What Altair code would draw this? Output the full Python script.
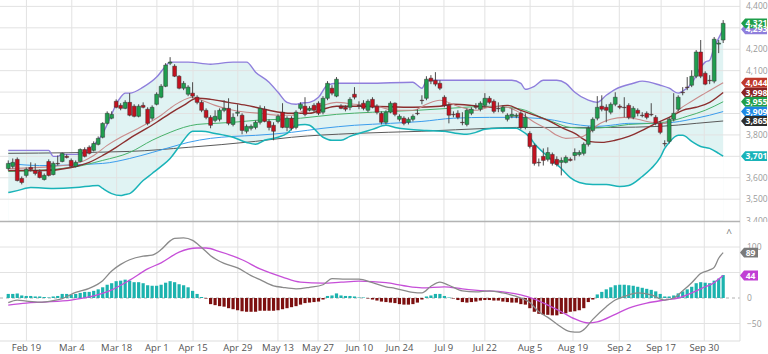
import altair as alt
import pandas as pd

# ---------------- candles (one per trading day, index 0..159) ----------------
OPEN = [3643, 3653, 3686, 3597, 3611, 3648, 3634, 3629, 3592, 3676,
        3615, 3667, 3676, 3700, 3681, 3653, 3676, 3732, 3742, 3728,
        3756, 3789, 3854, 3878, 3957, 3938, 3924, 3952, 3934, 3887,
        3938, 3920, 3878, 3943, 3976, 4027, 4135, 4121, 4074, 4018,
        3990, 3995, 3976, 3952, 3915, 3882, 3868, 3873, 3915, 3924,
        3849, 3901, 3892, 3817, 3831, 3835, 3859, 3920, 3863, 3845,
        3863, 3906, 3835, 3878, 3835, 3924, 3934, 3915, 3938, 3948,
        3906, 3971, 4018, 3981, 3934, 3929, 3929, 3990, 3938, 3948,
        3915, 3966, 3934, 3901, 3859, 3906, 3948, 3873, 3878, 3859,
        3873, 3901, 3962, 3971, 4065, 4055, 4041, 3976, 3938, 3896,
        3901, 3859, 3849, 3901, 3934, 3920, 3938, 3971, 3957, 3924,
        3910, 3873, 3887, 3887, 3901, 3835, 3807, 3751, 3672, 3700,
        3686, 3709, 3686, 3672, 3672, 3686, 3704, 3709, 3714, 3756,
        3821, 3878, 3934, 3929, 3906, 3943, 3934, 3929, 3938, 3882,
        3915, 3892, 3901, 3896, 3882, 3854, 3760, 3770, 3873, 3920,
        3999, 4023, 4032, 4074, 4187, 4088, 4055, 4051, 4224, 4243]
HIGH = [3681, 3690, 3695, 3606, 3648, 3672, 3667, 3639, 3620, 3686,
        3676, 3704, 3718, 3709, 3690, 3681, 3737, 3742, 3751, 3770,
        3793, 3859, 3910, 3910, 3966, 3948, 3962, 3995, 3943, 3943,
        3952, 3929, 3938, 3999, 4037, 4135, 4163, 4130, 4079, 4051,
        4032, 4046, 3985, 3962, 3924, 3892, 3915, 3924, 3962, 3971,
        3901, 3943, 3901, 3849, 3849, 3868, 3938, 3934, 3873, 3859,
        3896, 3948, 3887, 3887, 3915, 3952, 3976, 3934, 3948, 3957,
        3981, 4051, 4032, 4070, 3943, 3938, 3976, 4023, 3957, 3962,
        3966, 3976, 3943, 3910, 3915, 3957, 3952, 3896, 3887, 3882,
        3896, 3920, 3985, 4074, 4079, 4093, 4055, 3985, 3948, 3910,
        3915, 3906, 3924, 3929, 3948, 3957, 3995, 3981, 3966, 3952,
        3938, 3901, 3924, 3901, 3910, 3901, 3817, 3760, 3690, 3737,
        3742, 3718, 3700, 3695, 3704, 3695, 3737, 3728, 3765, 3840,
        3882, 3981, 3985, 3943, 3952, 3999, 3943, 3976, 3948, 3934,
        3924, 3906, 3910, 3948, 3892, 3863, 3775, 3882, 3995, 3985,
        4023, 4070, 4102, 4196, 4243, 4097, 4079, 4257, 4243, 4336]
LOW = [3634, 3643, 3583, 3569, 3601, 3629, 3611, 3597, 3587, 3606,
       3611, 3657, 3672, 3690, 3648, 3648, 3672, 3695, 3709, 3723,
       3751, 3784, 3849, 3873, 3924, 3915, 3920, 3887, 3882, 3882,
       3924, 3845, 3868, 3938, 3971, 4023, 4126, 4070, 4013, 4009,
       3981, 3971, 3943, 3906, 3873, 3831, 3859, 3863, 3906, 3845,
       3840, 3887, 3803, 3807, 3821, 3826, 3849, 3859, 3821, 3775,
       3854, 3831, 3817, 3821, 3826, 3915, 3887, 3910, 3906, 3892,
       3896, 3962, 3985, 3976, 3920, 3910, 3915, 3966, 3920, 3915,
       3906, 3924, 3896, 3849, 3849, 3901, 3887, 3863, 3845, 3849,
       3863, 3892, 3943, 3962, 4037, 4027, 4009, 3929, 3854, 3882,
       3873, 3845, 3840, 3892, 3920, 3910, 3929, 3943, 3901, 3906,
       3901, 3863, 3878, 3878, 3826, 3826, 3737, 3657, 3653, 3657,
       3676, 3657, 3653, 3611, 3667, 3676, 3681, 3700, 3704, 3746,
       3812, 3868, 3910, 3859, 3896, 3934, 3920, 3882, 3873, 3873,
       3887, 3882, 3873, 3887, 3845, 3803, 3746, 3760, 3863, 3910,
       3985, 4009, 4023, 4065, 4065, 4032, 4037, 4041, 4182, 4229]
CLOSE = [3667, 3672, 3587, 3578, 3639, 3639, 3620, 3601, 3611, 3611,
         3667, 3665, 3714, 3695, 3653, 3672, 3732, 3700, 3714, 3760,
         3784, 3854, 3901, 3896, 3929, 3924, 3952, 3892, 3887, 3934,
         3929, 3854, 3929, 3990, 4027, 4126, 4140, 4074, 4018, 4041,
         4023, 3981, 3952, 3915, 3882, 3845, 3887, 3915, 3924, 3854,
         3882, 3906, 3821, 3840, 3840, 3859, 3924, 3863, 3835, 3817,
         3887, 3835, 3878, 3831, 3906, 3943, 3896, 3924, 3915, 3901,
         3971, 4041, 3995, 4060, 3924, 3920, 3966, 3976, 3936, 3924,
         3957, 3929, 3906, 3859, 3906, 3948, 3896, 3887, 3854, 3873,
         3887, 3899, 3960, 4060, 4051, 4037, 4018, 3938, 3892, 3894,
         3882, 3857, 3915, 3920, 3929, 3948, 3971, 3952, 3910, 3922,
         3929, 3892, 3896, 3892, 3835, 3882, 3746, 3667, 3670, 3681,
         3718, 3667, 3662, 3681, 3695, 3681, 3718, 3718, 3756, 3831,
         3873, 3929, 3920, 3915, 3943, 3976, 3929, 3927, 3882, 3924,
         3901, 3890, 3882, 3894, 3854, 3812, 3758, 3873, 3901, 3976,
         3997, 4021, 4074, 4187, 4074, 4037, 4053, 4247, 4229, 4321]

# ---------------- overlay lines (vertex index, value) ----------------
BB_UP_I = [0, 9, 10, 11, 12, 15, 17, 18, 20, 21, 23, 24, 25, 26, 27, 30, 33, 35, 36, 40,
           45, 50, 53, 55, 58, 60, 62, 64, 65, 67, 69, 71, 73, 80, 90, 91, 92, 93, 95, 107,
           112, 114, 115, 117, 119, 122, 124, 126, 129, 131, 133, 135, 139, 141, 145, 147,
           149, 150, 152, 154, 155, 156, 157, 158, 159]
BB_UP_V = [3728, 3728, 3700, 3700, 3709, 3709, 3718, 3737, 3775, 3807, 3896, 3943, 3976, 3995,
           3995, 4023, 4070, 4121, 4140, 4140, 4130, 4140, 4140, 4093, 4046, 3999, 3952, 3943,
           3948, 3952, 3976, 4032, 4041, 4041, 4046, 4032, 4018, 4051, 4055, 4055, 4055, 4041,
           4013, 4027, 4055, 4055, 4041, 3999, 3962, 3952, 3985, 4013, 4041, 4051, 4032, 4018,
           3995, 4004, 4041, 4116, 4140, 4149, 4210, 4252, 4293]
BB_LO_I = [0, 2, 5, 10, 15, 20, 21, 23, 25, 26, 27, 30, 32, 34, 36, 38, 39, 41, 43, 46,
           50, 53, 55, 57, 60, 62, 64, 66, 67, 70, 72, 74, 76, 78, 81, 84, 86, 89, 93, 97,
           100, 102, 104, 106, 109, 113, 114, 116, 117, 119, 121, 123, 125, 127, 130, 133,
           136, 138, 141, 143, 145, 146, 147, 149, 150, 152, 154, 156, 158, 159]
BB_LO_V = [3531, 3540, 3554, 3550, 3554, 3564, 3550, 3526, 3517, 3522, 3526, 3587, 3620, 3653,
           3690, 3746, 3775, 3817, 3817, 3807, 3789, 3765, 3756, 3775, 3789, 3807, 3845, 3849,
           3845, 3789, 3775, 3775, 3793, 3807, 3826, 3845, 3835, 3826, 3821, 3817, 3807, 3803,
           3812, 3826, 3831, 3831, 3821, 3789, 3760, 3718, 3681, 3643, 3601, 3578, 3569, 3569,
           3559, 3564, 3606, 3643, 3695, 3737, 3765, 3798, 3798, 3770, 3746, 3737, 3714, 3701]
MA20_I = [0, 8, 14, 18, 21, 24, 27, 30, 33, 36, 39, 42, 45, 49, 53, 55, 58, 63, 67, 70,
          73, 80, 90, 96, 99, 103, 107, 111, 114, 117, 120, 123, 126, 129, 132, 135, 138,
          141, 144, 147, 150, 153, 156, 159]
MA20_V = [3634, 3634, 3648, 3672, 3704, 3742, 3784, 3821, 3859, 3901, 3938, 3971, 3966, 3952,
          3938, 3929, 3915, 3901, 3901, 3920, 3934, 3934, 3929, 3934, 3943, 3938, 3929, 3938,
          3915, 3892, 3868, 3835, 3807, 3770, 3765, 3775, 3793, 3821, 3854, 3882, 3915, 3929,
          3952, 3998]
MA10_I = [0, 10, 15, 17, 19, 22, 25, 28, 31, 34, 36, 38, 41, 43, 46, 49, 53, 56, 60, 63,
          66, 70, 73, 77, 82, 86, 90, 93, 96, 100, 104, 108, 111, 114, 117, 120, 122, 124,
          127, 129, 131, 134, 137, 140, 143, 146, 147, 149, 152, 155, 159]
MA10_V = [3643, 3653, 3667, 3681, 3704, 3751, 3789, 3821, 3854, 3892, 3924, 3952, 3976, 3962,
          3938, 3920, 3906, 3901, 3892, 3892, 3915, 3938, 3952, 3943, 3934, 3915, 3915, 3943,
          3962, 3934, 3915, 3934, 3929, 3901, 3859, 3826, 3798, 3784, 3789, 3807, 3845, 3873,
          3882, 3873, 3859, 3854, 3868, 3915, 3957, 3995, 4044]
MA50_I = [0, 14, 21, 27, 32, 36, 39, 42, 46, 50, 55, 65, 73, 81, 91, 98, 107, 111, 115, 118,
          122, 125, 129, 133, 138, 143, 147, 151, 155, 159]
MA50_V = [3629, 3648, 3681, 3718, 3775, 3812, 3835, 3849, 3854, 3859, 3868, 3878, 3896, 3906,
          3915, 3924, 3934, 3929, 3915, 3887, 3854, 3835, 3831, 3835, 3849, 3854, 3863, 3887,
          3915, 3955]
MA100_I = [0, 7, 21, 27, 32, 36, 40, 45, 50, 55, 63, 70, 77, 85, 92, 99, 107, 112, 120, 126,
           131, 134, 138, 144, 148, 153, 156, 159]
MA100_V = [3667, 3657, 3667, 3690, 3718, 3742, 3765, 3784, 3793, 3798, 3812, 3831, 3845, 3854,
           3863, 3878, 3882, 3882, 3873, 3849, 3840, 3845, 3854, 3854, 3859, 3878, 3892, 3909]
MA200_I = [0, 27, 40, 55, 63, 77, 92, 107, 113, 134, 145, 153, 159]
MA200_V = [3714, 3723, 3742, 3770, 3789, 3807, 3817, 3831, 3835, 3835, 3840, 3854, 3865]

# ---------------- MACD ----------------
MACD_I = [0, 2, 4, 7, 10, 12, 15, 18, 21, 23, 25, 27, 30, 32, 34, 36, 37, 39, 41, 43,
          45, 48, 51, 54, 56, 59, 61, 64, 67, 70, 72, 75, 78, 81, 84, 86, 90, 92, 94, 96,
          98, 101, 104, 107, 110, 113, 116, 118, 120, 122, 125, 127, 128, 130, 133, 135,
          137, 140, 143, 146, 148, 150, 152, 154, 156, 157, 158, 159]
MACD_V = [-9, -4, -6, -8, -5, -1, 11, 19, 34, 53, 66, 75, 82, 84, 95, 112, 117, 118, 113, 99,
          83, 68, 59, 44, 36, 24, 21, 18, 21, 26, 38, 37, 37, 30, 22, 19, 11, 10, 23, 31,
          25, 14, 12, 14, 10, 3, -9, -27, -38, -51, -66, -67, -62, -42, -17, -4,
          3, 10, 6, -4, 0, 14, 30, 48, 55, 60, 78, 89]
SIG_I = [0, 4, 8, 14, 18, 23, 27, 31, 34, 38, 42, 44, 47, 52, 56, 61, 65, 70, 74, 78,
         84, 88, 92, 97, 101, 106, 110, 114, 117, 120, 123, 126, 129, 131, 135, 138, 142,
         146, 149, 152, 155, 157, 158, 159]
SIG_V = [-14, -10, -8, -4, 2, 16, 35, 57, 69, 90, 98, 98, 91, 75, 57, 41, 31, 29, 31, 33,
         30, 24, 20, 22, 18, 14, 12, 6, -2, -14, -27, -41, -49, -47, -32, -20, -10,
         -4, 0, 10, 22, 30, 37, 44]
HIST = [8, 8, 9, 5, 4, 4, 3, 3, 2, 1, 3, 4, 8, 8, 7, 8, 10, 12, 12, 14,
        17, 21, 26, 29, 33, 34, 36, 34, 31, 31, 29, 25, 24, 24, 26, 30, 33, 31, 27, 25,
        21, 14, 8, 2, -1, -12, -14, -16, -17, -20, -22, -24, -26, -27, -27, -27, -25, -25, -25, -25,
        -24, -22, -20, -18, -16, -13, -10, -9, -8, -7, -3, 4, 5, 9, 5, 4, 4, 3, 1, 1,
        -1, -3, -5, -7, -8, -9, -10, -12, -13, -13, -12, -9, -3, 3, 5, 8, 8, 4, 1, -1,
        -4, -8, -9, -8, -7, -5, -4, -4, -5, -5, -7, -8, -9, -9, -12, -13, -20, -27, -31, -33,
        -33, -34, -34, -31, -30, -27, -26, -24, -20, -8, -3, 7, 12, 17, 21, 25, 26, 26, 25, 24,
        22, 20, 18, 16, 13, 8, 3, 3, 5, 9, 13, 17, 22, 29, 31, 30, 29, 34, 38, 45]

# ---------------- axes / tags ----------------
TICK_POS = [4.04, 14.13, 24.1, 33.06, 41.1, 51.05, 59.98, 68.9, 78.1, 87.03,
            96.9, 106.0, 116.06, 125.6, 135.9, 145.2, 154.8]
TICK_LABELS = ["Feb 19", "Mar 4", "Mar 18", "Apr 1", "Apr 15", "Apr 29", "May 13", "May 27",
               "Jun 10", "Jun 24", "Jul 9", "Jul 22", "Aug 5", "Aug 19", "Sep 2", "Sep 17", "Sep 30"]
PRICE_GRID = [3500, 3600, 3700, 3800, 3900, 4000, 4100, 4200, 4300, 4400]
PRICE_LABELS = [4400, 4200, 4100, 3800, 3600, 3500, 3400]   # the others sit under value tags
MACD_GRID = [100, 50, -50]
MACD_LABELS = [100, 0, -50]
TAG_VALUES = [4293, 4321, 3998, 4044, 3955, 3909, 3865, 3701]
TAG_COLORS = ["#8f7fdc", "#1e9e4a", "#8b2222", "#c0392b", "#1f9e4a", "#1e88e5", "#2e2e2e", "#19b3b8"]
MTAG_VALUES = [89, 44]
MTAG_COLORS = ["#7a7a7a", "#c13fd4"]

FONT = "Open Sans"
UP_C, DN_C = "#1f9e4f", "#c4111f"


def X(f="i"):
    return alt.X(f + ":Q", axis=None,
                 scale=alt.Scale(domain=[-0.724, 161.63], range=[0, 740], nice=False, zero=False))


def YP(f):
    return alt.Y(f + ":Q", axis=None,
                 scale=alt.Scale(domain=[3400, 4400], range=[220.6, 6.4], nice=False, zero=False))


def YM(f):
    return alt.Y(f + ":Q", axis=None,
                 scale=alt.Scale(domain=[-50, 100], range=[323.5, 247], nice=False, zero=False))


def ldf(I, V):
    return pd.DataFrame({"i": I, "v": V})


candles = pd.DataFrame({"i": list(range(len(OPEN))), "open": OPEN, "high": HIGH,
                        "low": LOW, "close": CLOSE})
hist = pd.DataFrame({"i": list(range(len(HIST))), "h": HIST})
ticks = pd.DataFrame({"i": TICK_POS, "label": TICK_LABELS})
one = pd.DataFrame({"v": [0]})

layers = []

# Bollinger fill: teal from upper band down, then white from lower band down
layers.append(alt.Chart(ldf(BB_UP_I, BB_UP_V)).mark_area(color="#e0f3f3", interpolate="monotone")
              .encode(x=X(), y=YP("v"), y2=alt.Y2Datum(3400)))
layers.append(alt.Chart(ldf(BB_LO_I, BB_LO_V)).mark_area(color="white", interpolate="monotone")
              .encode(x=X(), y=YP("v"), y2=alt.Y2Datum(3400)))

# grid
layers.append(alt.Chart(ticks).mark_rule(color="#e2e2e2", strokeWidth=1)
              .encode(x=X(), y=alt.value(0), y2=alt.value(341)))
layers.append(alt.Chart(pd.DataFrame({"v": PRICE_GRID})).mark_rule(color="#e2e2e2", strokeWidth=1)
              .encode(y=YP("v"), x=alt.value(0), x2=alt.value(740)))
layers.append(alt.Chart(pd.DataFrame({"v": MACD_GRID})).mark_rule(color="#e2e2e2", strokeWidth=1)
              .encode(y=YM("v"), x=alt.value(0), x2=alt.value(740)))
layers.append(alt.Chart(one).mark_rule(color="#b0b0b0", strokeWidth=1, strokeDash=[3, 3])
              .encode(y=YM("v"), x=alt.value(0), x2=alt.value(740)))
layers.append(alt.Chart(one).mark_rule(color="#dddddd", strokeWidth=1)
              .encode(x=alt.value(740), y=alt.value(0), y2=alt.value(341)))
layers.append(alt.Chart(one).mark_rule(color="#dddddd", strokeWidth=1)
              .encode(y=alt.value(341), x=alt.value(0), x2=alt.value(740)))
layers.append(alt.Chart(one).mark_rule(color="#b3b3b3", strokeWidth=1.5)
              .encode(y=alt.value(221.5), x=alt.value(0), x2=alt.value(740)))

# moving averages and bands
for I, V, col, w in [(MA200_I, MA200_V, "#5a5a5a", 1.0),
                     (MA100_I, MA100_V, "#3b9ded", 1.0),
                     (MA50_I, MA50_V, "#47b26b", 1.0),
                     (MA20_I, MA20_V, "#8c2f2f", 1.4),
                     (MA10_I, MA10_V, "#c98b8b", 1.1),
                     (BB_UP_I, BB_UP_V, "#8f7fdc", 1.4),
                     (BB_LO_I, BB_LO_V, "#19b3b8", 1.5)]:
    layers.append(alt.Chart(ldf(I, V)).mark_line(color=col, strokeWidth=w, interpolate="monotone")
                  .encode(x=X(), y=YP("v")))

# MACD histogram and lines
layers.append(alt.Chart(hist).mark_bar(size=3.2)
              .encode(x=X(), y=YM("h"), y2=alt.Y2Datum(0),
                      color=alt.condition("datum.h >= 0", alt.value("#1cb3ae"), alt.value("#7d1010"))))
layers.append(alt.Chart(ldf(SIG_I, SIG_V)).mark_line(color="#c64fd8", strokeWidth=1.3, interpolate="monotone")
              .encode(x=X(), y=YM("v")))
layers.append(alt.Chart(ldf(MACD_I, MACD_V)).mark_line(color="#8a8a8a", strokeWidth=1.3, interpolate="monotone")
              .encode(x=X(), y=YM("v")))

# candles
layers.append(alt.Chart(candles).mark_rule(color="#4a4a4a", strokeWidth=1)
              .encode(x=X(), y=YP("low"), y2="high"))
layers.append(alt.Chart(candles).mark_bar(size=3.8, stroke="#333333", strokeWidth=0.5)
              .encode(x=X(), y=YP("open"), y2="close",
                      color=alt.condition("datum.close >= datum.open", alt.value(UP_C), alt.value(DN_C))))

# x labels
layers.append(alt.Chart(ticks).mark_text(font=FONT, fontSize=9.5, color="#555555", baseline="middle")
              .encode(x=X(), y=alt.value(348), text="label:N"))

# right axis labels
layers.append(alt.Chart(pd.DataFrame({"v": PRICE_LABELS})).mark_text(
    font=FONT, fontSize=8.5, color="#9a9a9a", align="left", baseline="middle")
    .encode(y=YP("v"), x=alt.value(746), text=alt.Text("v:Q", format=",")))
layers.append(alt.Chart(one).mark_rect(color="white")
              .encode(x=alt.value(741), x2=alt.value(768), y=alt.value(222), y2=alt.value(232)))
layers.append(alt.Chart(pd.DataFrame({"v": MACD_LABELS})).mark_text(
    font=FONT, fontSize=8.5, color="#9a9a9a", align="left", baseline="middle")
    .encode(y=YM("v"), x=alt.value(747), text=alt.Text("v:Q", format=",")))

# value tags
TAG_SHAPE = "M-1,0L-0.68,-0.38L1,-0.38L1,0.38L-0.68,0.38Z"
MTAG_SHAPE = "M-1,0L-0.55,-0.55L1,-0.55L1,0.55L-0.55,0.55Z"
tags = pd.DataFrame({"v": TAG_VALUES, "c": TAG_COLORS})
layers.append(alt.Chart(tags).mark_point(shape=TAG_SHAPE, filled=True, size=676, opacity=1, strokeWidth=0)
              .encode(y=YP("v"), x=alt.value(754), fill=alt.Fill("c:N", scale=None)))
layers.append(alt.Chart(tags).mark_text(font=FONT, fontSize=8.5, fontWeight="bold", color="white",
                                        align="center", baseline="middle")
              .encode(y=YP("v"), x=alt.value(756.5), text=alt.Text("v:Q", format=",")))
mtags = pd.DataFrame({"v": MTAG_VALUES, "c": MTAG_COLORS})
layers.append(alt.Chart(mtags).mark_point(shape=MTAG_SHAPE, filled=True, size=324, opacity=1, strokeWidth=0)
              .encode(y=YM("v"), x=alt.value(749), fill=alt.Fill("c:N", scale=None)))
layers.append(alt.Chart(mtags).mark_text(font=FONT, fontSize=8.5, fontWeight="bold", color="white",
                                         align="center", baseline="middle")
              .encode(y=YM("v"), x=alt.value(750.5), text="v:Q"))

# collapse caret
layers.append(alt.Chart(pd.DataFrame({"t": ["^"]})).mark_text(font=FONT, fontSize=10, color="#777777")
              .encode(x=alt.value(729), y=alt.value(234), text="t:N"))

chart = (alt.layer(*layers)
         .resolve_scale(y="independent")
         .properties(width=768, height=354, padding=0, autosize=alt.AutoSizeParams(type="none"))
         .configure_view(stroke=None))

chart.save("out.html", embed_options={"renderer": "svg", "actions": False})
